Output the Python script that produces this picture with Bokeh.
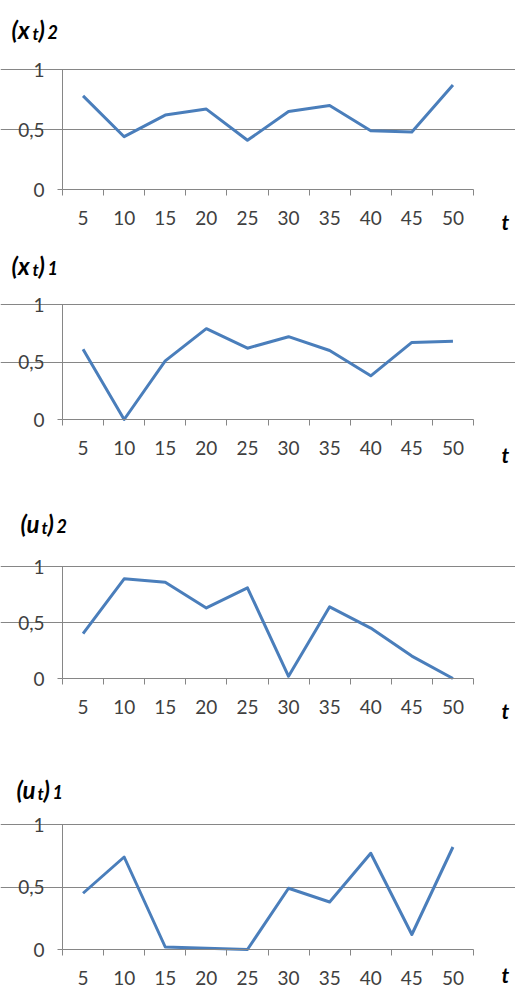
from bokeh.plotting import figure
from bokeh.layouts import column
from bokeh.models import Range1d, FixedTicker, Label, LinearAxis, Grid
from bokeh.embed import file_html
from bokeh.resources import INLINE

# ---- data ----
t_values = [5, 10, 15, 20, 25, 30, 35, 40, 45, 50]
x2_values = [0.78, 0.44, 0.62, 0.67, 0.41, 0.65, 0.70, 0.49, 0.48, 0.87]
x1_values = [0.61, 0.00, 0.51, 0.79, 0.62, 0.72, 0.60, 0.38, 0.67, 0.68]
u2_values = [0.40, 0.89, 0.86, 0.63, 0.81, 0.02, 0.64, 0.45, 0.20, 0.00]
u1_values = [0.45, 0.74, 0.02, 0.01, 0.00, 0.49, 0.38, 0.77, 0.12, 0.82]
y_ticks = [0, 0.5, 1]
y_tick_labels = {0: "0", 0.5: "0,5", 1: "1"}
x_label = "t"

# (base letter, subscript, index, series)
panels = [
    ("x", "t", "2", x2_values),
    ("x", "t", "1", x1_values),
    ("u", "t", "2", u2_values),
    ("u", "t", "1", u1_values),
]

# page layout (pixels): panel height, y of value 1, y of value 0 (relative to panel top),
# title start x, title baseline, axis-name baseline (relative to panel top)
layout = [
    dict(h=240, y1=69, y0=189, tx=11, tb=29, nb=221),
    dict(h=250, y1=64, y0=179, tx=11, tb=25, nb=214),
    dict(h=250, y1=76, y0=188, tx=20, tb=33, nb=220),
    dict(h=251, y1=84, y0=209, tx=16, tb=49, nb=234),
]

W = 515
X_LEFT, X_RIGHT = 62, 473          # frame pixels of category edges
CAT_LO, CAT_HI = 2.5, 52.5         # category band edges in t units
GRAY = "#868686"
LINE = "#4a7ebb"
TXT = "#404040"
FONT = "Lato"

ppu_x = (X_RIGHT - X_LEFT) / (CAT_HI - CAT_LO)
x_start = CAT_LO - X_LEFT / ppu_x
x_end = CAT_HI + (W - X_RIGHT) / ppu_x

figs = []
for (base, sub, idx, vals), L in zip(panels, layout):
    H = L["h"]
    ppu_y = L["y0"] - L["y1"]
    y_start = 0 - (H - L["y0"]) / ppu_y
    y_end = 1 + L["y1"] / ppu_y

    p = figure(width=W, height=H, output_backend="svg", toolbar_location=None,
               x_range=Range1d(x_start, x_end), y_range=Range1d(y_start, y_end),
               x_axis_type=None, y_axis_type=None, min_border=0)
    p.outline_line_color = None
    p.background_fill_color = "white"
    p.border_fill_color = "white"
    p.grid.visible = False

    grid = Grid(dimension=1, ticker=FixedTicker(ticks=[0.5, 1]), bounds=(CAT_LO, CAT_HI),
                grid_line_color=GRAY, grid_line_width=1)
    p.add_layout(grid)

    p.line(t_values, vals, line_color=LINE, line_width=3, line_join="round")

    xa = LinearAxis(fixed_location=0, bounds=(CAT_LO, CAT_HI),
                    ticker=FixedTicker(ticks=t_values,
                                       minor_ticks=[v - 2.5 for v in t_values] + [t_values[-1] + 2.5]))
    xa.major_tick_out = 0
    xa.major_tick_in = 0
    xa.minor_tick_out = 6
    xa.minor_tick_in = 0
    xa.minor_tick_line_color = GRAY
    xa.axis_line_color = GRAY
    xa.major_label_standoff = 15
    xa.major_label_text_font = FONT
    xa.major_label_text_font_size = "19px"
    xa.major_label_text_color = TXT
    p.add_layout(xa, "below")

    ya = LinearAxis(fixed_location=CAT_LO, bounds=(0, 1), ticker=FixedTicker(ticks=y_ticks))
    ya.major_label_overrides = y_tick_labels
    ya.major_tick_out = 5
    ya.major_tick_in = 0
    ya.minor_tick_out = 0
    ya.minor_tick_in = 0
    ya.major_tick_line_color = GRAY
    ya.axis_line_color = GRAY
    ya.major_label_standoff = 13
    ya.major_label_text_font = FONT
    ya.major_label_text_font_size = "19px"
    ya.major_label_text_color = TXT
    p.add_layout(ya, "left")

    def put(text, px, py, size):
        # px, py: pixels from the panel's top-left corner
        lab = Label(x=px, y=H - py, x_units="screen", y_units="screen",
                    text=text, text_font=FONT, text_font_size=size,
                    text_font_style="bold italic", text_color="black",
                    text_baseline="alphabetic", text_align="left")
        p.add_layout(lab)

    tx, tb = L["tx"], L["tb"]
    put("(" + base, tx, tb, "24px")
    put(sub, tx + 21, tb + 4, "17px")
    put(")", tx + 27, tb, "24px")
    put(idx, tx + 36, tb + 2, "18px")
    put(x_label, 501, L["nb"], "21px")

    figs.append(p)

page = column(*figs, spacing=0)
open("out.html", "w").write(file_html(page, INLINE))
